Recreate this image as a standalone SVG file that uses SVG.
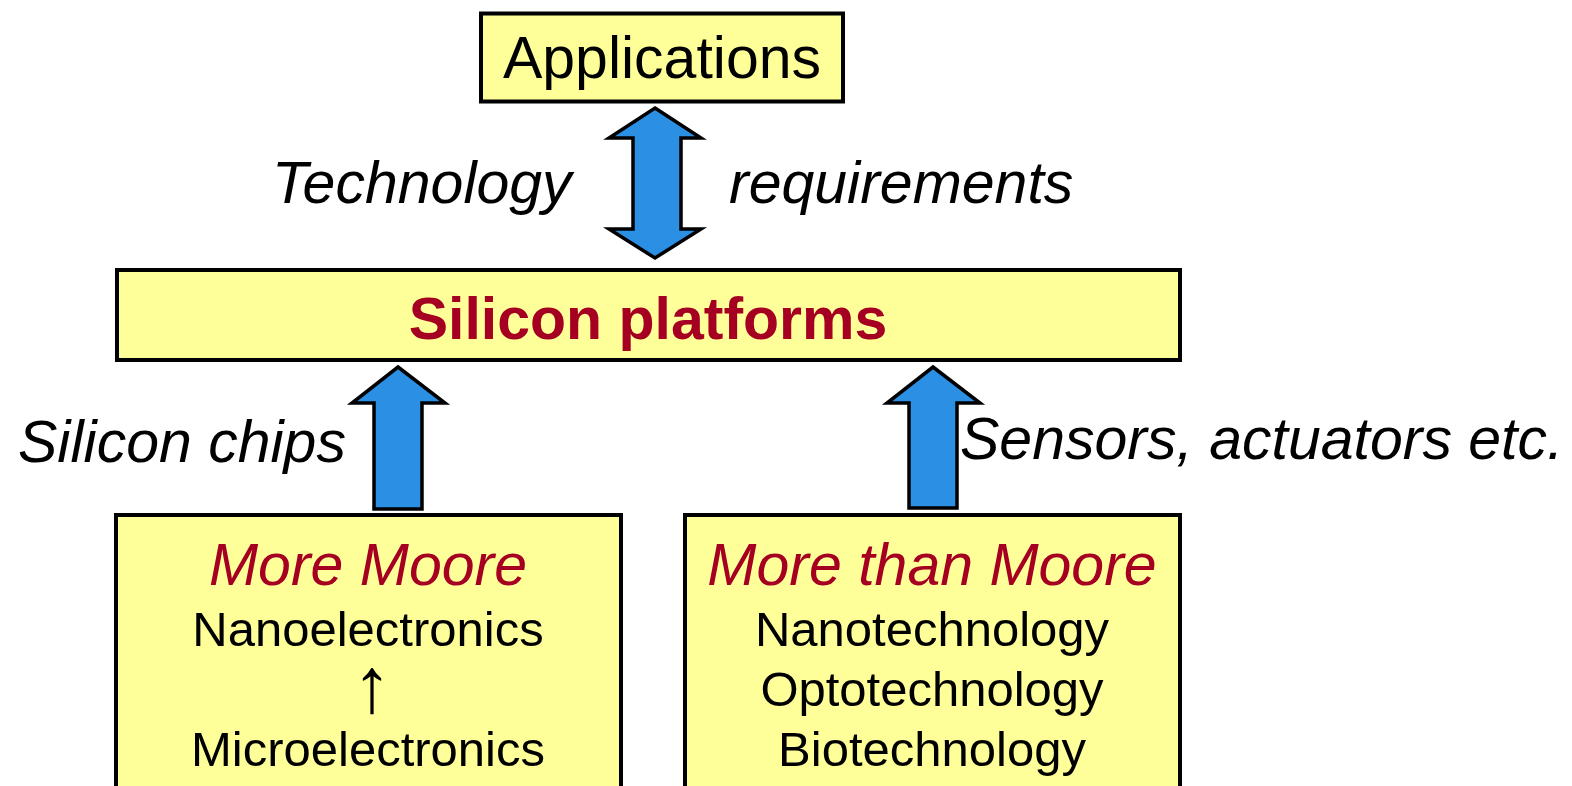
<svg xmlns="http://www.w3.org/2000/svg" width="1572" height="786" viewBox="0 0 1572 786">
<style>
.box{fill:#ffff99;stroke:#000;stroke-width:4}
.arr{fill:#2b8fe3;stroke:#000;stroke-width:3.5;stroke-linejoin:miter}
text{font-family:"Liberation Sans",Arial,sans-serif;fill:#000}
.lbl{font-size:59px;font-style:italic}
.title{font-size:59px}
.red{fill:#a50021}
.body{font-size:49px;text-anchor:middle}
</style>
<rect width="1572" height="786" fill="#fff"/>
<g id="applications">
<rect class="box" x="481" y="13.5" width="362" height="88"/>
<text class="title" x="662" y="78" text-anchor="middle">Applications</text>
</g>
<g id="silicon-platforms">
<rect class="box" x="117" y="270" width="1063" height="90"/>
<text class="title red" x="648" y="339" text-anchor="middle" font-weight="bold">Silicon platforms</text>
</g>
<g id="more-moore">
<rect class="box" x="116" y="515" width="505" height="300"/>
<text class="title red" x="368" y="585" text-anchor="middle" font-style="italic">More Moore</text>
<text class="body" x="368" y="646">Nanoelectronics</text>
<text class="body" x="372" y="712" style="font-size:78px">↑</text>
<text class="body" x="368" y="766">Microelectronics</text>
</g>
<g id="more-than-moore">
<rect class="box" x="685" y="515" width="495" height="300"/>
<text class="title red" x="932" y="585" text-anchor="middle" font-style="italic">More than Moore</text>
<text class="body" x="932" y="646">Nanotechnology</text>
<text class="body" x="932" y="706">Optotechnology</text>
<text class="body" x="932" y="766">Biotechnology</text>
</g>
<g id="connectors">
<polygon class="arr" points="655,108 701,138 681,138 681,229 701,229 655,258 609,229 633,229 633,138 609,138"/>
<polygon class="arr" points="398,367 445,403 422,403 422,509 374,509 374,403 352,403"/>
<polygon class="arr" points="933,367 980,403 957,403 957,508 909,508 909,403 887,403"/>
<text class="lbl" x="272" y="203">Technology</text>
<text class="lbl" x="729" y="203">requirements</text>
<text class="lbl" x="18" y="462">Silicon chips</text>
<text class="lbl" x="960" y="459">Sensors, actuators etc.</text>
</g>
</svg>
